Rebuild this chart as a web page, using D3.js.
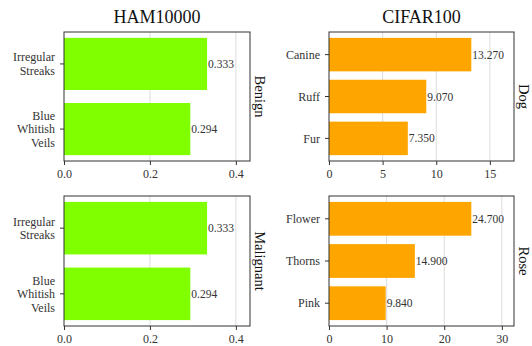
<!DOCTYPE html>
<html>
<head>
<meta charset="utf-8">
<script src="https://cdn.jsdelivr.net/npm/d3@7"></script>
<style>
  html, body { margin: 0; padding: 0; background: #fff; }
  svg, svg text { font-family: "Liberation Serif", "DejaVu Serif", serif; }
</style>
</head>
<body>
<svg id="chart" width="532" height="346"></svg>
<script>
// Concept attribution scores per dataset and class
const hamCategories = ["Irregular\nStreaks", "Blue\nWhitish\nVeils"];
const benignValues = [0.333, 0.294];
const malignantValues = [0.333, 0.294];
const hamTicks = [0, 0.2, 0.4];

const dogCategories = ["Canine", "Ruff", "Fur"];
const dogValues = [13.27, 9.07, 7.35];
const dogTicks = [0, 5, 10, 15];

const roseCategories = ["Flower", "Thorns", "Pink"];
const roseValues = [24.7, 14.9, 9.84];
const roseTicks = [0, 10, 20, 30];

const columnTitles = ["HAM10000", "CIFAR100"];

const svg = d3.select("#chart");
const colX = [[64, 250], [329, 514]];
const rowY = [[32, 161], [196, 326]];

const panels = [
  { col: 0, row: 0, cats: hamCategories, vals: benignValues, ticks: hamTicks, fmt: d3.format(".1f"), color: "#7fff00", label: "Benign" },
  { col: 0, row: 1, cats: hamCategories, vals: malignantValues, ticks: hamTicks, fmt: d3.format(".1f"), color: "#7fff00", label: "Malignant" },
  { col: 1, row: 0, cats: dogCategories, vals: dogValues, ticks: dogTicks, fmt: d3.format("d"), color: "#ffa500", label: "Dog" },
  { col: 1, row: 1, cats: roseCategories, vals: roseValues, ticks: roseTicks, fmt: d3.format("d"), color: "#ffa500", label: "Rose" }
];

const ink = "#333";
const serif = "'Liberation Serif', 'DejaVu Serif', serif";

panels.forEach(p => {
  const [x0, x1] = colX[p.col];
  const [y0, y1] = rowY[p.row];
  const n = p.cats.length;
  const x = d3.scaleLinear().domain([0, d3.max(p.vals) * 1.3]).range([x0, x1]);
  const y = d3.scaleBand().domain(p.cats).range([y0, y1])
    .paddingInner(0.2).paddingOuter(0.05 * (n - 0.2));

  const g = svg.append("g");

  // vertical grid lines
  g.selectAll("line.grid").data(p.ticks.filter(t => t > 0)).join("line")
    .attr("class", "grid")
    .attr("x1", d => x(d)).attr("x2", d => x(d))
    .attr("y1", y0).attr("y2", y1)
    .attr("stroke", "#dcdcdc").attr("stroke-width", 1);

  // bars
  g.selectAll("rect.bar").data(p.vals).join("rect")
    .attr("class", "bar")
    .attr("x", x(0))
    .attr("y", (d, i) => y(p.cats[i]))
    .attr("width", d => x(d) - x(0))
    .attr("height", y.bandwidth())
    .attr("fill", p.color);

  // value labels
  g.selectAll("text.val").data(p.vals).join("text")
    .attr("class", "val")
    .attr("x", d => x(d) + 1)
    .attr("y", (d, i) => y(p.cats[i]) + y.bandwidth() / 2)
    .attr("dy", "0.35em")
    .attr("font-size", 11.5)
    .attr("fill", ink)
    .text(d => d3.format(".3f")(d));

  // x axis
  const xAxis = d3.axisBottom(x).tickValues(p.ticks).tickFormat(p.fmt)
    .tickSize(4).tickPadding(4);
  const gx = g.append("g").attr("transform", `translate(0,${y1})`).call(xAxis)
    .attr("font-family", serif).attr("font-size", 12);
  gx.select(".domain").remove();
  gx.selectAll("line").attr("stroke", ink);
  gx.selectAll("text").attr("fill", ink);

  // y axis with multi-line labels
  const yAxis = d3.axisLeft(y).tickSize(4).tickPadding(5);
  const gy = g.append("g").attr("transform", `translate(${x0},0)`).call(yAxis)
    .attr("font-family", serif).attr("font-size", 12);
  gy.select(".domain").remove();
  gy.selectAll("line").attr("stroke", ink);
  gy.selectAll("text").each(function(d) {
    const t = d3.select(this);
    const lines = d.split("\n");
    const lh = 13.5;
    t.text(null).attr("fill", ink).attr("dy", null);
    lines.forEach((ln, i) => {
      t.append("tspan").attr("x", -9)
        .attr("y", (i - (lines.length - 1) / 2) * lh)
        .attr("dy", "0.35em").text(ln);
    });
  });

  // frame
  g.append("rect").attr("x", x0).attr("y", y0)
    .attr("width", x1 - x0).attr("height", y1 - y0)
    .attr("fill", "none").attr("stroke", ink).attr("stroke-width", 1);

  // row label on the right, reading top to bottom
  g.append("text")
    .attr("transform", `translate(${x1 + 5},${(y0 + y1) / 2}) rotate(90)`)
    .attr("text-anchor", "middle")
    .attr("font-size", 14.5)
    .attr("fill", "#111")
    .text(p.label);
});

// column titles
columnTitles.forEach((t, i) => {
  svg.append("text")
    .attr("x", (colX[i][0] + colX[i][1]) / 2)
    .attr("y", 23)
    .attr("text-anchor", "middle")
    .attr("font-size", 18)
    .attr("fill", "#111")
    .text(t);
});
</script>
</body>
</html>
